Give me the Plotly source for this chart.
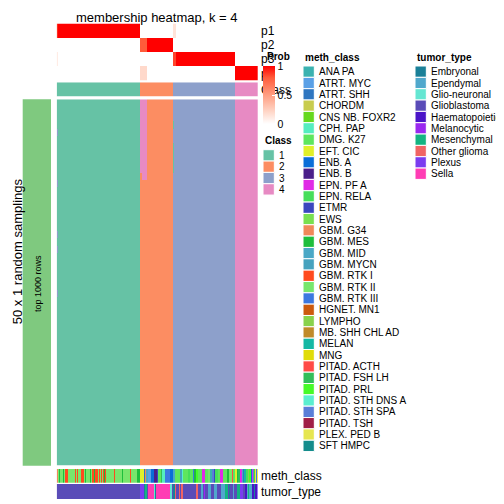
import plotly.graph_objects as go

# The page body adds an 8 px offset, so the figure is 496 px and positions are shifted.
OFF = 8
W = H = 504 - OFF
FONT = "Liberation Sans, Arial, Helvetica, sans-serif"

# ---------------- data ----------------
class_labels = ["1", "2", "3", "4"]
class_colors = ["#66C2A5", "#FC8D62", "#8DA0CB", "#E78AC3"]
class_run_lengths = [83, 33, 62, 23]          # columns per consensus class

prob_block_sizes = [1, 82, 7, 26, 3, 59, 23]  # column blocks
p1_vals = [0.9, 1.0, 0.0, 0.0, 0.15, 0.0, 0.0]
p2_vals = [0.0, 0.0, 0.8, 1.0, 0.0, 0.0, 0.0]
p3_vals = [0.1, 0.0, 0.0, 0.0, 0.85, 1.0, 0.0]
p4_vals = [0.0, 0.0, 0.2, 0.0, 0.0, 0.0, 1.0]

n_samplings = 50
# samplings that disagree with consensus: (first_row, last_row, first_col, last_col, class)
deviations = [
    (0, 9, 83, 84, 4), (0, 10, 85, 89, 4),
    (3, 3, 116, 116, 1), (6, 9, 116, 116, 1),
    (4, 4, 0, 0, 3), (11, 11, 0, 0, 3), (18, 18, 0, 0, 3),
    (20, 20, 0, 0, 3), (26, 26, 0, 0, 3),
]

meth_levels = ["ANA PA", "ATRT. MYC", "ATRT. SHH", "CHORDM", "CNS NB. FOXR2", "CPH. PAP",
               "DMG. K27", "EFT. CIC", "ENB. A", "ENB. B", "EPN. PF A", "EPN. RELA", "ETMR",
               "EWS", "GBM. G34", "GBM. MES", "GBM. MID", "GBM. MYCN", "GBM. RTK I",
               "GBM. RTK II", "GBM. RTK III", "HGNET. MN1", "LYMPHO", "MB. SHH CHL AD",
               "MELAN", "MNG", "PITAD. ACTH", "PITAD. FSH LH", "PITAD. PRL",
               "PITAD. STH DNS A", "PITAD. STH SPA", "PITAD. TSH", "PLEX. PED B", "SFT HMPC"]
meth_colors = ["#3BB2B0", "#5AA0E6", "#2F76C0", "#C8CC4E", "#66D81E", "#55EDC0",
               "#5EE65E", "#E0F02A", "#0A6ED8", "#4A1E8A", "#E02AE6", "#46DE5A", "#3A46BE",
               "#78E050", "#F0885A", "#1EBE3C", "#4AA8C6", "#46A2BE", "#FF4A1E",
               "#78E66C", "#3C78E0", "#CC5A0E", "#88D24C", "#C08A28",
               "#14B8A4", "#E0DC0A", "#FF4A46", "#32BE5A", "#46FA28",
               "#5AEED0", "#5A7ED8", "#A01E46", "#E6E650", "#148C8C"]
meth_runs = [
    ("GBM. G34", 1), ("GBM. RTK II", 1), ("GBM. MES", 1), ("GBM. RTK II", 3), ("GBM. MES", 1),
    ("GBM. RTK II", 1), ("GBM. RTK I", 3), ("GBM. RTK II", 7), ("GBM. RTK I", 1),
    ("GBM. RTK II", 1), ("GBM. RTK I", 1), ("GBM. RTK II", 3), ("GBM. RTK I", 3),
    ("GBM. RTK II", 1), ("GBM. MES", 1), ("GBM. RTK II", 4), ("GBM. MES", 1),
    ("GBM. RTK II", 1), ("GBM. RTK I", 2), ("GBM. MES", 1), ("GBM. RTK I", 3),
    ("GBM. RTK II", 1), ("GBM. RTK I", 1), ("GBM. RTK II", 1), ("GBM. RTK I", 1),
    ("GBM. RTK II", 1), ("GBM. RTK I", 1), ("GBM. MES", 1), ("GBM. RTK I", 1),
    ("GBM. RTK II", 8), ("GBM. RTK I", 1), ("GBM. RTK II", 7), ("GBM. MES", 1),
    ("GBM. RTK II", 7), ("GBM. RTK I", 1), ("GBM. RTK II", 6), ("GBM. MES", 3),
    ("EFT. CIC", 4), ("ATRT. SHH", 1), ("GBM. G34", 1), ("GBM. MID", 2), ("ATRT. MYC", 3),
    ("ENB. A", 3), ("ENB. B", 3), ("ETMR", 1), ("DMG. K27", 3), ("PITAD. FSH LH", 1),
    ("CPH. PAP", 3), ("GBM. RTK III", 5), ("ENB. A", 3),
    ("GBM. MID", 2), ("DMG. K27", 5), ("GBM. MYCN", 2), ("PITAD. STH DNS A", 1),
    ("DMG. K27", 5), ("EPN. RELA", 2), ("DMG. K27", 3), ("GBM. RTK III", 1), ("GBM. MES", 2),
    ("PITAD. PRL", 2), ("DMG. K27", 4), ("EPN. PF A", 3), ("DMG. K27", 3), ("GBM. RTK II", 2),
    ("ANA PA", 2), ("PITAD. STH SPA", 2), ("ETMR", 1), ("EPN. RELA", 3), ("DMG. K27", 2),
    ("EPN. PF A", 3), ("DMG. K27", 4), ("GBM. MES", 2), ("GBM. RTK II", 3),
    ("PITAD. ACTH", 1), ("DMG. K27", 2),
    ("EFT. CIC", 2), ("GBM. MES", 1), ("PITAD. FSH LH", 2), ("EPN. PF A", 2), ("GBM. MID", 1),
    ("ATRT. SHH", 1), ("MELAN", 2), ("EPN. RELA", 2), ("LYMPHO", 1), ("PITAD. PRL", 2),
    ("ENB. A", 1), ("EPN. PF A", 1), ("GBM. MYCN", 1), ("CNS NB. FOXR2", 1),
    ("PLEX. PED B", 1), ("GBM. RTK III", 1), ("MNG", 1),
]

tumor_levels = ["Embryonal", "Ependymal", "Glio-neuronal", "Glioblastoma", "Haematopoietic",
                "Melanocytic", "Mesenchymal", "Other glioma", "Plexus", "Sella"]
tumor_colors = ["#1A8098", "#50A8CC", "#64E6D2", "#5A4CB8", "#4A14C8",
                "#9A28F0", "#14B482", "#F06464", "#7A3CF0", "#FF3CB4"]
tumor_runs = [
    ("Glioblastoma", 83), ("Plexus", 4), ("Embryonal", 1), ("Mesenchymal", 2),
    ("Glioblastoma", 1), ("Sella", 6), ("Glio-neuronal", 1), ("Embryonal", 1), ("Sella", 14),
    ("Glio-neuronal", 2), ("Glioblastoma", 1), ("Embryonal", 2), ("Other glioma", 1),
    ("Glioblastoma", 3), ("Other glioma", 1), ("Glioblastoma", 1), ("Other glioma", 2),
    ("Glioblastoma", 13), ("Other glioma", 2), ("Glioblastoma", 3), ("Ependymal", 2),
    ("Glioblastoma", 1), ("Melanocytic", 1), ("Glioblastoma", 3), ("Ependymal", 3),
    ("Glioblastoma", 3), ("Ependymal", 3), ("Glioblastoma", 4), ("Ependymal", 4),
    ("Mesenchymal", 3), ("Glioblastoma", 1), ("Embryonal", 1), ("Glioblastoma", 3),
    ("Ependymal", 1), ("Glioblastoma", 3), ("Mesenchymal", 3), ("Plexus", 3),
    ("Glioblastoma", 2), ("Haematopoietic", 2), ("Ependymal", 1), ("Mesenchymal", 1),
    ("Ependymal", 3), ("Haematopoietic", 2), ("Embryonal", 1), ("Haematopoietic", 2),
    ("Plexus", 1),
]

prob_rows = ["p1", "p2", "p3", "p4"]
left_bar_color = "#7FC97F"

# ---------------- build matrices ----------------
consensus = []
for k, n in enumerate(class_run_lengths):
    consensus += [k] * n
N = len(consensus)

prob = [[], [], [], []]
for n, a, b, c, d in zip(prob_block_sizes, p1_vals, p2_vals, p3_vals, p4_vals):
    for r, v in enumerate((a, b, c, d)):
        prob[r] += [v] * n

main = [list(consensus) for _ in range(n_samplings)]
for r0, r1, c0, c1, cl in deviations:
    for r in range(r0, r1 + 1):
        for c in range(c0, c1 + 1):
            main[r][c] = cl - 1

meth_codes = []
for name, n in meth_runs:
    meth_codes += [meth_levels.index(name)] * n
tumor_codes = []
for name, n in tumor_runs:
    tumor_codes += [tumor_levels.index(name)] * n


def discrete_scale(colors):
    n = len(colors)
    cs = []
    for i, c in enumerate(colors):
        cs.append([i / n, c])
        cs.append([(i + 1) / n, c])
    return cs


def xd(px):
    return (px - OFF) / W


def yd(py):
    return 1 - (py - OFF) / H


X0, X1 = 56.7, 258.0
cols = list(range(N))

fig = go.Figure()
layout = dict(width=W, height=H, margin=dict(l=0, r=0, t=0, b=0),
              paper_bgcolor="white", plot_bgcolor="rgba(0,0,0,0)", showlegend=False,
              font=dict(family=FONT, color="black"))

panels = [  # (axis suffix, top px, bottom px, row names)
    ("", 23.5, 80.5, prob_rows),
    ("2", 82.3, 96.7, ["Class"]),
    ("3", 99.3, 465.7, None),
    ("4", 469.0, 482.7, ["meth_class"]),
    ("5", 484.0, 499.0, ["tumor_type"]),
]
for suf, top, bot, names in panels:
    nr = len(names) if names else n_samplings
    layout["xaxis" + suf] = dict(domain=[xd(X0), xd(X1)], range=[-0.5, N - 0.5],
                                 visible=False, fixedrange=True)
    ya = dict(domain=[yd(bot), yd(top)], range=[nr - 0.5, -0.5], fixedrange=True,
              showgrid=False, zeroline=False, showline=False)
    if names:
        ya.update(visible=True, side="right", tickmode="array",
                  tickvals=list(range(nr)), ticktext=names, ticks="",
                  ticklabelstandoff=2, tickfont=dict(size=12, family=FONT, color="black"))
    else:
        ya.update(visible=False)
    layout["yaxis" + suf] = ya

# probability rows
fig.add_trace(go.Heatmap(z=prob, x=cols, y=list(range(4)), coloraxis="coloraxis",
                         xaxis="x", yaxis="y", hoverinfo="skip"))
# class row (top)
fig.add_trace(go.Heatmap(z=[consensus], x=cols, y=[0], zmin=-0.5, zmax=3.5,
                         colorscale=discrete_scale(class_colors), showscale=False,
                         xaxis="x2", yaxis="y2", hoverinfo="skip"))
# main membership matrix
fig.add_trace(go.Heatmap(z=main, x=cols, y=list(range(n_samplings)), zmin=-0.5, zmax=3.5,
                         colorscale=discrete_scale(class_colors), showscale=False,
                         xaxis="x3", yaxis="y3", hoverinfo="skip"))
# meth_class
fig.add_trace(go.Heatmap(z=[meth_codes], x=cols, y=[0], zmin=-0.5, zmax=len(meth_levels) - 0.5,
                         colorscale=discrete_scale(meth_colors), showscale=False,
                         xaxis="x4", yaxis="y4", hoverinfo="skip"))
# tumor_type
fig.add_trace(go.Heatmap(z=[tumor_codes], x=cols, y=[0], zmin=-0.5, zmax=len(tumor_levels) - 0.5,
                         colorscale=discrete_scale(tumor_colors), showscale=False,
                         xaxis="x5", yaxis="y5", hoverinfo="skip"))

layout["coloraxis"] = dict(
    cmin=0, cmax=1,
    colorscale=[[0, "#FFFFFF"], [0.2, "#FFD9CB"], [0.5, "#FF9E81"], [0.8, "#FF5B3A"], [1, "#FF0000"]],
    colorbar=dict(x=xd(262.7), xanchor="left", y=yd(66), yanchor="top",
                  lenmode="pixels", len=58, thicknessmode="pixels", thickness=12,
                  xpad=0, ypad=0, outlinewidth=0, bgcolor="rgba(0,0,0,0)",
                  tickvals=[0, 0.5, 1], ticktext=["0", "0.5", "1"],
                  ticks="inside", ticklen=3, tickcolor="white",
                  tickfont=dict(size=10.5, family=FONT, color="black")))

shapes = []
annotations = []

# left sampling bar
shapes.append(dict(type="rect", xref="paper", yref="paper", x0=xd(22.7), x1=xd(51),
                   y0=yd(465.7), y1=yd(99.3), fillcolor=left_bar_color, line=dict(width=0),
                   layer="below"))


def text(px, py, s, size, bold=False, anchor="left", angle=0, yanchor="middle"):
    annotations.append(dict(xref="paper", yref="paper", x=xd(px), y=yd(py),
                            text=("<b>%s</b>" % s) if bold else s, showarrow=False,
                            xanchor=anchor, yanchor=yanchor, textangle=angle,
                            font=dict(size=size, family=FONT, color="black")))


# title and side label kept just inside the drawable area
text((X0 + X1) / 2, OFF, "membership heatmap, k = 4", 13, anchor="center", yanchor="top")
text(OFF, 251.7, "50 x 1 random samplings", 13, anchor="left", angle=-90)
text(37.5, 283.5, "top 1000 rows", 9, anchor="center", angle=-90)

# discrete legends
PITCH = 11.34


def legend(x_sq, title_y, first_top, labels, colors, title):
    text(x_sq, title_y, title, 10, bold=True)
    for i, (lab, col) in enumerate(zip(labels, colors)):
        top = first_top + i * PITCH
        shapes.append(dict(type="rect", xref="paper", yref="paper",
                           x0=xd(x_sq), x1=xd(x_sq + PITCH), y0=yd(top + PITCH), y1=yd(top),
                           fillcolor=col, line=dict(width=1, color="white")))
        text(x_sq + PITCH + 3, top + PITCH / 2, lab, 10)


text(264.5, 56.7, "Prob", 10, bold=True)
legend(263.0, 140.0, 149.7, class_labels, class_colors, "Class")
legend(303.0, 57.5, 66.0, meth_levels, meth_colors, "meth_class")
legend(415.0, 57.5, 66.0, tumor_levels, tumor_colors, "tumor_type")

layout["shapes"] = shapes
layout["annotations"] = annotations
fig.update_layout(**layout)
fig.write_html("out.html")
